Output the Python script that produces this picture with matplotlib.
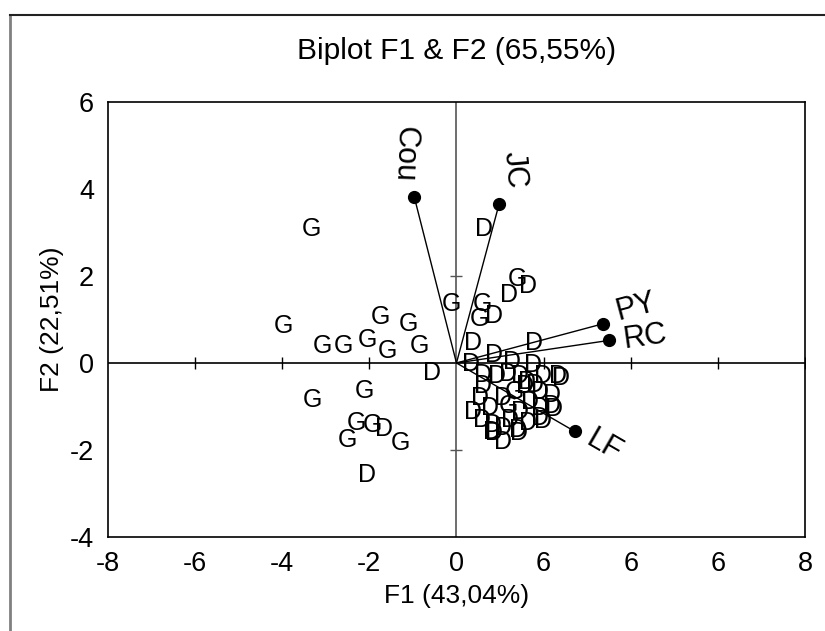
import matplotlib
matplotlib.use('Agg')
from matplotlib import pyplot as plt
from matplotlib.lines import Line2D

plt.rcParams['font.family'] = ['Liberation Sans', 'DejaVu Sans']
plt.rcParams['axes.unicode_minus'] = False

# observations (F1, F2)
g_x = [-3.34, -3.97, -3.08, -2.59, -2.04, -1.75, -1.59, -1.11, -0.85, -0.11,
       0.59, 0.53, 1.40, -2.12, -3.31, -2.30, -1.93, -2.50, -1.28, 1.34, 1.19]
g_y = [3.07, 0.84, 0.40, 0.40, 0.52, 1.05, 0.27, 0.90, 0.40, 1.35,
       1.35, 1.02, 1.93, -0.64, -0.86, -1.39, -1.43, -1.77, -1.85, -0.66, -1.00]

d_x = [0.87, 0.64, 1.65, 1.20, 0.38, 1.77, 0.87, -0.56, -1.67, -2.06,
       0.33, 1.27, 1.75, 0.62, 0.92, 1.19, 1.46, 1.99, 2.34, 1.61,
       0.62, 1.57, 1.80, 1.92, 2.19, 0.54, 1.07, 1.69, 2.19, 0.39,
       0.77, 1.46, 1.92, 0.58, 0.84, 1.23, 1.65, 1.92, 1.42, 0.81,
       1.07, 1.07, 2.41, 1.99, 0.87, 1.43, 2.25]
d_y = [1.09, 3.08, 1.77, 1.56, 0.47, 0.46, 0.18, -0.22, -1.51, -2.57,
       -0.02, 0.02, -0.05, -0.28, -0.30, -0.25, -0.31, -0.31, -0.30, -0.43,
       -0.54, -0.54, -0.51, -0.66, -0.74, -0.81, -0.81, -0.89, -1.00, -1.12,
       -1.04, -1.12, -1.04, -1.31, -1.43, -1.31, -1.39, -1.27, -1.54, -1.58,
       -1.50, -1.81, -0.34, -1.33, -1.61, -1.61, -1.05]

# variables
var_names = ['Cou', 'JC', 'PY', 'RC', 'LF']
var_x = [-0.97, 0.98, 3.36, 3.51, 2.71]
var_y = [3.82, 3.66, 0.90, 0.52, -1.57]
lab_x = [-1.19, 1.33, 4.13, 4.34, 3.38]
lab_y = [4.80, 4.45, 1.28, 0.60, -1.90]
lab_rot = [-92, -85, 15, 8, -30]

xtick_vals = [-8, -6, -4, -2, 0, 2, 4, 6, 8]
xtick_labels = ['-8', '-6', '-4', '-2', '0', '6', '6', '6', '8']
ytick_vals = [-4, -2, 0, 2, 4, 6]

fig = plt.figure(figsize=(8.25, 6.31), dpi=100)
ax = fig.add_axes([0.1309, 0.1490, 0.8448, 0.6894])

# outer frame
fig.add_artist(Line2D([0.0121, 0.0121], [0, 0.976], transform=fig.transFigure,
                      color='#808080', lw=2))
fig.add_artist(Line2D([0.0121, 1.0], [0.976, 0.976], transform=fig.transFigure,
                      color='#222222', lw=1.5))

ax.set_xlim(-8, 8)
ax.set_ylim(-4, 6)

# zero lines with tick marks
ax.axhline(0, color='black', lw=1.2, zorder=1)
ax.axvline(0, color='#555555', lw=1.2, zorder=1)
ax.plot([-6, -4, -2, 2, 4, 6, 8], [0] * 7, ls='none', marker='|', ms=9,
        mew=1, color='black')
ax.plot([0, 0], [-2, 2], ls='none', marker='_', ms=9, mew=1, color='#555555')

for x, y in zip(g_x, g_y):
    ax.text(x, y, 'G', ha='center', va='center', fontsize=18)
for x, y in zip(d_x, d_y):
    ax.text(x, y, 'D', ha='center', va='center', fontsize=18)

for i in range(len(var_names)):
    ax.plot([0, var_x[i]], [0, var_y[i]], color='black', lw=1)
    ax.plot(var_x[i], var_y[i], 'o', color='black', ms=8.5)
    ax.text(lab_x[i], lab_y[i], var_names[i], ha='center', va='center',
            fontsize=22, rotation=lab_rot[i], rotation_mode='anchor')

ax.set_xticks(xtick_vals)
ax.set_xticklabels(xtick_labels)
ax.set_yticks(ytick_vals)
ax.tick_params(length=0, labelsize=19.5, pad=10)

ax.set_xlabel('F1 (43,04%)', fontsize=19, labelpad=5)
ax.set_ylabel('F2 (22,51%)', fontsize=19, labelpad=4)
ax.set_title('Biplot F1 & F2 (65,55%)', fontsize=21.5, pad=31)

for s in ax.spines.values():
    s.set_linewidth(1.2)

plt.savefig('out.png', dpi=100)
